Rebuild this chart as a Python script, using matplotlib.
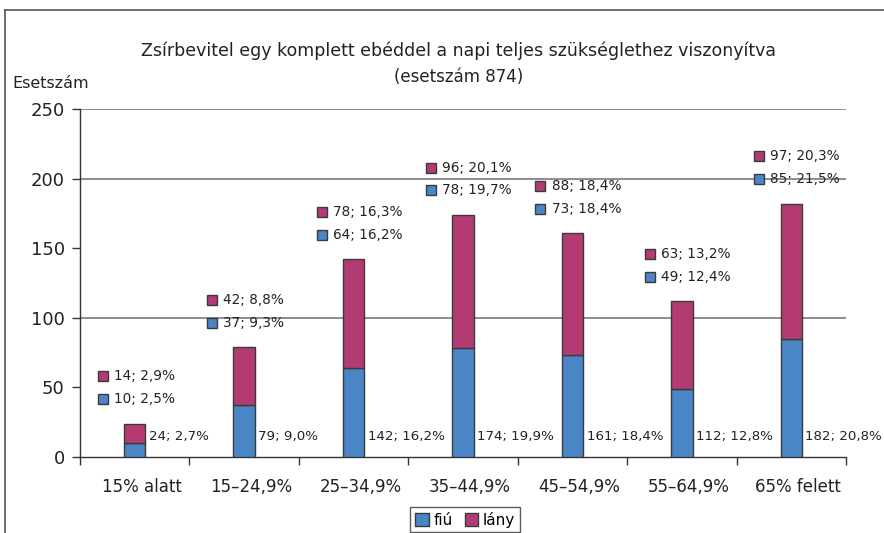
import matplotlib
matplotlib.use("Agg")
import matplotlib.pyplot as plt
import matplotlib.transforms as mtransforms
from matplotlib.patches import Patch
from matplotlib.lines import Line2D
import numpy as np

plt.rcParams['font.family'] = ['DejaVu Sans']

categories = ["15% alatt", "15–24,9%", "25–34,9%", "35–44,9%", "45–54,9%", "55–64,9%", "65% felett"]
fiu = [10, 37, 64, 78, 73, 49, 85]
lany = [14, 42, 78, 96, 88, 63, 97]
fiu_pct = ["2,5%", "9,3%", "16,2%", "19,7%", "18,4%", "12,4%", "21,5%"]
lany_pct = ["2,9%", "8,8%", "16,3%", "20,1%", "18,4%", "13,2%", "20,3%"]
total_pct = ["2,7%", "9,0%", "16,2%", "19,9%", "18,4%", "12,8%", "20,8%"]
yticks = [0, 50, 100, 150, 200, 250]
gridlines = [100, 200, 250]

title = "Zsírbevitel egy komplett ebéddel a napi teljes szükséglethez viszonyítva"
subtitle = "(esetszám 874)"
ylabel = "Esetszám"

BLUE = "#4a86c6"
MAG = "#b43a74"
EDGE = "#3a3a3a"
GRID = "#7a7a7a"

fig = plt.figure(figsize=(8.84, 5.33), dpi=100)
ax = fig.add_axes([80/884, 1-457/533, (846-80)/884, (457-109)/533])

x = np.arange(len(categories))
w = 0.195
totals = [a + b for a, b in zip(fiu, lany)]

for g in gridlines:
    ax.axhline(g, color=GRID, lw=1.2, zorder=0)

ax.bar(x, fiu, width=w, color=BLUE, edgecolor=EDGE, linewidth=1, zorder=3)
ax.bar(x, lany, width=w, bottom=fiu, color=MAG, edgecolor=EDGE, linewidth=1, zorder=3)

ax.set_xlim(-0.5, len(categories) - 0.5)
ax.set_ylim(0, 250)

for s in ["top", "right"]:
    ax.spines[s].set_visible(False)
for s in ["left", "bottom"]:
    ax.spines[s].set_color("#333333")
    ax.spines[s].set_linewidth(1)

ax.set_yticks(yticks)
ax.set_yticklabels([str(v) for v in yticks], fontsize=13, color="#222222")
ax.tick_params(axis="y", direction="out", length=6, width=1, color="#333333", pad=5)

ax.set_xticks(x)
ax.set_xticklabels(categories, fontsize=12, color="#222222")
ax.tick_params(axis="x", which="major", length=0, pad=15)
ax.set_xticks(np.arange(-0.5, len(categories) + 0.5, 1), minor=True)
ax.tick_params(axis="x", which="minor", direction="out", length=6, width=1, color="#333333")
shift = mtransforms.ScaledTranslation(7/100, 0, fig.dpi_scale_trans)
for lab in ax.get_xticklabels():
    lab.set_transform(lab.get_transform() + shift)

# labels
for i in range(len(categories)):
    top = totals[i]
    tr = mtransforms.offset_copy(ax.transData, fig=fig, x=2.5, y=15, units="points")
    ax.text(x[i] + w/2, 0, f"{totals[i]}; {total_pct[i]}", transform=tr,
            fontsize=9.6, ha="left", va="center", color="#222222", zorder=5)
    for val, pct, col, dy in [(fiu[i], fiu_pct[i], BLUE, 17.5), (lany[i], lany_pct[i], MAG, 34)]:
        trm = mtransforms.offset_copy(ax.transData, fig=fig, x=-23, y=dy, units="points")
        ax.plot([x[i]], [top], marker="s", markersize=7, markerfacecolor=col,
                markeredgecolor=EDGE, markeredgewidth=1, transform=trm, clip_on=False, zorder=5)
        trt = mtransforms.offset_copy(ax.transData, fig=fig, x=-15, y=dy, units="points")
        ax.text(x[i], top, f"{val}; {pct}", transform=trt, fontsize=9.8,
                ha="left", va="center", color="#222222", zorder=5)

fig.text(0.519, 1-51/533, title, ha="center", va="center", fontsize=12.5, color="#222222")
fig.text(0.519, 1-77/533, subtitle, ha="center", va="center", fontsize=12, color="#222222")
fig.text(12/884, 1-83/533, ylabel, ha="left", va="center", fontsize=11.5, color="#222222")

# outer frame (partially visible)
fig.add_artist(Line2D([5/884, 1], [1-10/533, 1-10/533], color="#555555", lw=1.2, transform=fig.transFigure))
fig.add_artist(Line2D([5/884, 5/884], [0, 1-10/533], color="#555555", lw=1.2, transform=fig.transFigure))

handles = [Patch(facecolor=BLUE, edgecolor=EDGE, label="fiú"),
           Patch(facecolor=MAG, edgecolor=EDGE, label="lány")]
leg = fig.legend(handles=handles, loc="upper center", bbox_to_anchor=(465/884, 1-507/533),
                 ncol=2, fontsize=11, frameon=True, fancybox=False, handlelength=0.9,
                 handleheight=0.9, handletextpad=0.3, columnspacing=0.8, borderpad=0.3,
                 borderaxespad=0)
leg.get_frame().set_edgecolor("#333333")
leg.get_frame().set_linewidth(1)

fig.savefig("out.png", dpi=100)
